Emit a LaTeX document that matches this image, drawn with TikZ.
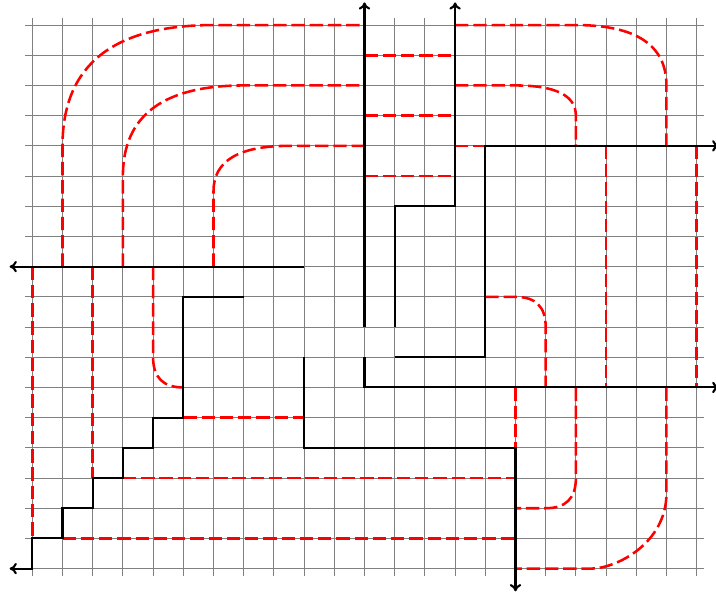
\documentclass[tikz,border=0pt]{standalone}
\usepackage{tikz}
\usetikzlibrary{arrows.meta}

\begin{document}
\begin{tikzpicture}[
  x=0.5cm,y=0.5cm,
  wire/.style={line width=1pt,black},
  arr/.style={wire,-{To[length=3.4pt,width=5.4pt]}},
  strand/.style={red,very thick,dash pattern=on 6.3pt off 2.3pt}
]
  \useasboundingbox (-1.07,-0.87) rectangle (22.64,18.83);
  \draw[gray,thin,step=1] (-0.25,-0.25) grid (22.25,18.25);
  % dashed strands, upper part
  \draw[strand] (1,10) -- (1,14) .. controls (1,16.67) and (2.67,18) .. (6,18) -- (11,18);
  \draw[strand] (14,18) -- (18,18) .. controls (20,18) and (21,17.33) .. (21,16) -- (21,14);
  \draw[strand] (3,10) -- (3,13) .. controls (3,15) and (4.33,16) .. (7,16) -- (11,16);
  \draw[strand] (14,16) -- (16,16) .. controls (17.33,16) and (18,15.67) .. (18,15) -- (18,14);
  \draw[strand] (6,10) -- (6,12.5) .. controls (6,13.5) and (6.83,14) .. (8.5,14) -- (11,14);
  \draw[strand] (14,14) -- (15,14);
  \foreach \j in {13,15,17} \draw[strand] (11,\j) -- (14,\j);
  % right part
  \foreach \i in {19,22} \draw[strand] (\i,14) -- (\i,6);
  \draw[strand] (15,9) -- (16,9) .. controls (16.67,9) and (17,8.67) .. (17,8) -- (17,6);
  \draw[strand] (16,6) -- (16,4);
  \draw[strand] (18,6) -- (18,3) .. controls (18,2.33) and (17.67,2) .. (17,2) -- (16,2);
  \draw[strand] (21,6) -- (21,2.5) .. controls (21,0.83) and (19.33,0) .. (18.5,0) -- (16,0);
  % left part
  \draw[strand] (4,10) -- (4,7) .. controls (4,6.33) and (4.33,6) .. (5,6);
  \draw[strand] (0,10) -- (0,1);
  \draw[strand] (1,1) -- (16,1);
  \draw[strand] (2,10) -- (2,3);
  \draw[strand] (3,3) -- (16,3);
  \draw[strand] (5,5) -- (9,5);
  % solid paths
  \draw[arr] (11,8) -- (11,18.75);
  \draw[arr] (12,8) |- (14,12) -- (14,18.75);
  \draw[arr] (12,7) -| (15,14) -- (22.75,14);
  \draw[arr] (11,7) |- (22.75,6);
  \draw[arr] (9,10) -- (-0.75,10);
  \draw[arr] (7,9) -| (5,5) -| (4,4) -| (3,3) -| (2,2) -| (1,1) -| (0,0) -- (-0.75,0);
  \draw[arr] (9,7) |- (16,4) -- (16,-0.75);
\end{tikzpicture}
\end{document}
